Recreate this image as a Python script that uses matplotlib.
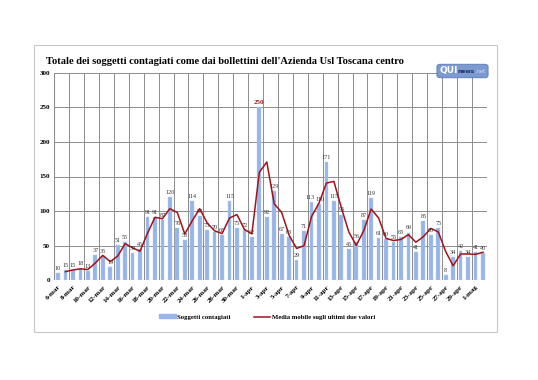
import matplotlib
matplotlib.use("Agg")
from matplotlib import pyplot as plt
from matplotlib.patches import FancyBboxPatch, Rectangle
from matplotlib.lines import Line2D
import numpy as np

# daily values, 6 marzo -> 2 maggio
dates = ["6-mar", "7-mar", "8-mar", "9-mar", "10-mar", "11-mar", "12-mar", "13-mar",
         "14-mar", "15-mar", "16-mar", "17-mar", "18-mar", "19-mar", "20-mar", "21-mar",
         "22-mar", "23-mar", "24-mar", "25-mar", "26-mar", "27-mar", "28-mar", "29-mar",
         "30-mar", "31-mar", "1-apr", "2-apr", "3-apr", "4-apr", "5-apr", "6-apr",
         "7-apr", "8-apr", "9-apr", "10-apr", "11-apr", "12-apr", "13-apr", "14-apr",
         "15-apr", "16-apr", "17-apr", "18-apr", "19-apr", "20-apr", "21-apr", "22-apr",
         "23-apr", "24-apr", "25-apr", "26-apr", "27-apr", "28-apr", "29-apr", "30-apr",
         "1-mag", "2-mag"]
contagiati = [10, 15, 15, 18, 13, 37, 35, 19, 51, 55, 39, 45, 91, 91, 87, 120,
              76, 58, 114, 93, 73, 70, 65, 115, 75, 72, 62, 250, 92, 129, 67, 63,
              29, 71, 113, 110, 171, 115, 95, 45, 56, 87, 119, 61, 60, 55, 63, 69,
              41, 85, 65, 75, 8, 34, 42, 34, 41, 40]

vals = np.array(contagiati, dtype=float)
media = (vals[1:] + vals[:-1]) / 2
x = np.arange(len(vals))

serif = "Liberation Serif"

fig = plt.figure(figsize=(5.38, 3.80), dpi=100)

# outer frame of the chart
fig.add_artist(Rectangle((34 / 538, 1 - 332 / 380), (497 - 34) / 538, (332 - 45) / 380,
                         transform=fig.transFigure, fill=False, edgecolor="#c8c8c8", lw=0.8))

ax = fig.add_axes([54.3 / 538, 1 - 280.3 / 380, 432.4 / 538, 207.6 / 380])

ax.bar(x, vals, width=0.5, color="#97b5e8", edgecolor="#b8cdf0", linewidth=0.3, zorder=2)
ax.plot(x[1:], media, color="#a3121b", lw=1.1, zorder=3)

for i, v in enumerate(contagiati):
    dx = 0
    if i == 34:
        dx = -0.8
    elif i == 35:
        dx = 0.8
    if v == max(contagiati):
        ax.annotate(str(v), (i, v), xytext=(0, 2), textcoords="offset points", ha="center",
                    va="bottom", fontsize=5, family=serif, color="#a3121b", fontweight="bold", zorder=4)
    else:
        ax.annotate(str(v), (i, v), xytext=(dx, 1.5), textcoords="offset points", ha="center",
                    va="bottom", fontsize=4.4, family=serif, color="#333333", zorder=4)

ax.set_xlim(-0.5, len(vals) - 0.5)
ax.set_ylim(0, 300)
ax.set_yticks(range(0, 301, 50))
ax.set_yticklabels([str(t) for t in range(0, 301, 50)], fontsize=5, family=serif, fontweight="bold")
ax.set_xticks(x[::2])
ax.set_xticklabels(dates[::2], rotation=45, ha="right", rotation_mode="anchor",
                   fontsize=5, family=serif, fontweight="bold")
ax.tick_params(axis="both", length=0, pad=3)

# grid
for yy in range(50, 301, 50):
    ax.axhline(yy, color="#8c8c8c", lw=0.7, zorder=1)
for gx in np.arange(-0.5, len(vals), 2):
    ax.axvline(gx, color="#8c8c8c", lw=0.7, zorder=1)
for s in ax.spines.values():
    s.set_visible(False)
ax.axhline(0, color="#8c8c8c", lw=0.8, zorder=1)
ax.axvline(-0.5, color="#8c8c8c", lw=0.8, zorder=1)

fig.text(46 / 538, 1 - 61 / 380, "Totale dei soggetti contagiati come dai bollettini dell'Azienda Usl Toscana centro",
         family=serif, fontweight="bold", fontsize=7.6, va="center", ha="left")

# logo
fig.add_artist(FancyBboxPatch((438 / 538, 1 - 77 / 380), 49 / 538, 12 / 380,
                              boxstyle="round,pad=0.002,rounding_size=0.006",
                              transform=fig.transFigure, facecolor="#7d9ad0",
                              edgecolor="#5a78b4", lw=0.6, zorder=5))
fig.text(439 / 538, 1 - 71 / 380, "QUI", color="white", fontsize=6.5, fontweight="bold",
         family="DejaVu Sans", va="center", ha="left", zorder=6)
fig.text(457 / 538, 1 - 71.5 / 380, "news", color="#1c2f66", fontsize=4.2, fontweight="bold",
         family="DejaVu Sans", va="center", ha="left", zorder=6)
fig.text(475 / 538, 1 - 71.5 / 380, ".net", color="#d3def3", fontsize=3.6,
         family="DejaVu Sans", va="center", ha="left", zorder=6)

handles = [Rectangle((0, 0), 1, 1, facecolor="#97b5e8", edgecolor="#97b5e8"),
           Line2D([0], [0], color="#a3121b", lw=1.1)]
fig.legend(handles, ["Soggetti contagiati", "Media mobile sugli ultimi due valori"],
           loc="center", bbox_to_anchor=(267 / 538, 1 - 317 / 380), ncol=2, frameon=False,
           prop={"family": serif, "weight": "bold", "size": 4.8},
           handlelength=2.5, handleheight=0.5, columnspacing=3.5, handletextpad=0.2)

fig.savefig("out.png", dpi=100, facecolor="white")
